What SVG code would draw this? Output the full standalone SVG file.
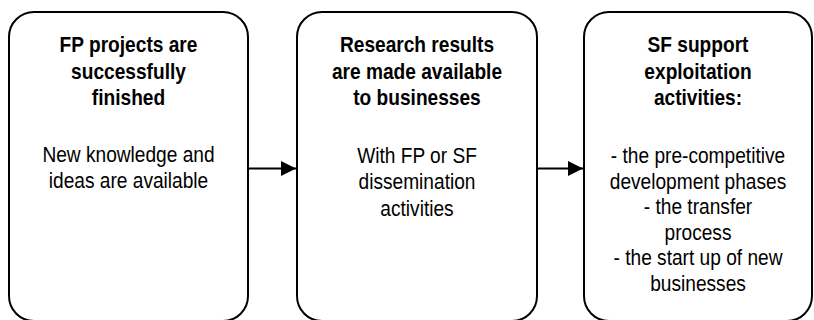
<svg xmlns="http://www.w3.org/2000/svg" width="814" height="320" viewBox="0 0 814 320">
<style>
.box{fill:#fff;stroke:#000;stroke-width:2}
.t{font-family:"Liberation Sans",Arial,sans-serif;font-size:22.5px;text-anchor:middle;fill:#000}
.b{font-weight:bold}
.conn{stroke:#000;stroke-width:2;fill:none}
</style>
<defs>
<marker id="ah" markerWidth="16" markerHeight="16" refX="15" refY="7.5" orient="auto" markerUnits="userSpaceOnUse">
<path d="M0,0 L15,7.5 L0,15 Z" fill="#000"/>
</marker>
</defs>
<g id="node1">
<rect class="box" x="9" y="12" width="239" height="309" rx="25" ry="25"/>
<g transform="translate(128.5,0) scale(0.85,1)">
<text class="t b" x="0" y="52.5">FP projects are</text>
<text class="t b" x="0" y="79">successfully</text>
<text class="t b" x="0" y="105.5">finished</text>
<text class="t" x="0" y="162">New knowledge and</text>
<text class="t" x="0" y="188.5">ideas are available</text>
</g>
</g>
<g id="node2">
<rect class="box" x="297" y="12" width="240" height="309" rx="25" ry="25"/>
<g transform="translate(417,0) scale(0.85,1)">
<text class="t b" x="0" y="52.5">Research results</text>
<text class="t b" x="0" y="79">are made available</text>
<text class="t b" x="0" y="105.5">to businesses</text>
<text class="t" x="0" y="163">With FP or SF</text>
<text class="t" x="0" y="189.5">dissemination</text>
<text class="t" x="0" y="216">activities</text>
</g>
</g>
<g id="node3">
<rect class="box" x="584" y="12" width="228" height="309" rx="25" ry="25"/>
<g transform="translate(698,0) scale(0.85,1)">
<text class="t b" x="0" y="52.5">SF support</text>
<text class="t b" x="0" y="79">exploitation</text>
<text class="t b" x="0" y="105.5">activities:</text>
<text class="t" x="0" y="163.5">- the pre-competitive</text>
<text class="t" x="0" y="189">development phases</text>
<text class="t" x="0" y="214.5">- the transfer</text>
<text class="t" x="0" y="240">process</text>
<text class="t" x="0" y="265.5">- the start up of new</text>
<text class="t" x="0" y="291">businesses</text>
</g>
</g>
<g id="connectors">
<line class="conn" x1="249" y1="168.5" x2="296" y2="168.5" marker-end="url(#ah)"/>
<line class="conn" x1="538" y1="168.5" x2="583" y2="168.5" marker-end="url(#ah)"/>
</g>
</svg>
